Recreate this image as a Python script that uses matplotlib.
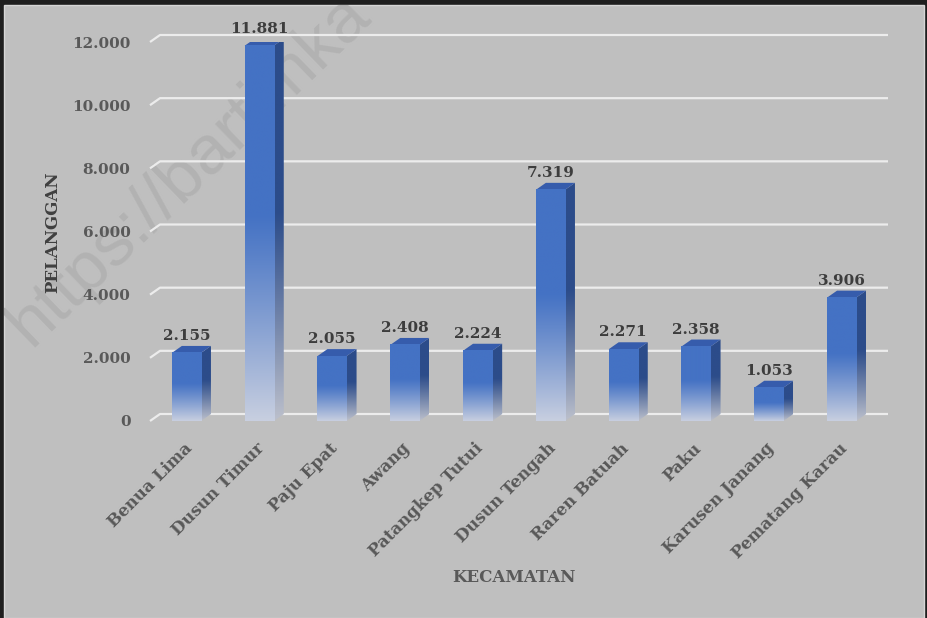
import numpy as np
import matplotlib
matplotlib.use("Agg")
import matplotlib.pyplot as plt
from matplotlib.patches import Polygon, Rectangle
from matplotlib.transforms import offset_copy

# data
kecamatan = ['Benua Lima', 'Dusun Timur', 'Paju Epat', 'Awang', 'Patangkep Tutui',
             'Dusun Tengah', 'Raren Batuah', 'Paku', 'Karusen Janang', 'Pematang Karau']
pelanggan = [2155, 11881, 2055, 2408, 2224, 7319, 2271, 2358, 1053, 3906]
yticks = [0, 2000, 4000, 6000, 8000, 10000, 12000]


def fmt(v):
    return '{:,}'.format(v).replace(',', '.')


W, H = 928, 618
fig = plt.figure(figsize=(W / 100, H / 100), dpi=100)
fig.patch.set_facecolor('#1f1f1f')
panel = Rectangle((4 / W, 0), 920 / W, 613 / H, transform=fig.transFigure,
                  facecolor='#bfbfbf', edgecolor='#d6d6d6', lw=1, zorder=-10)
fig.patches.append(panel)

# front plane of the 3d chart
ax = fig.add_axes([150 / W, (H - 421) / H, 728 / W, 379 / H])
ax.patch.set_visible(False)
for s in ax.spines.values():
    s.set_visible(False)

# depth of the 3d effect, in data units (10 px, 7 px)
DX = 10 / 72.8
DY = 7 * 12000 / 379
bw = 0.4

# watermark (behind the bars)
wm = ax.text(30 / W, 1 - 348 / H, 'https://bartimka', transform=fig.transFigure,
             fontsize=50, family='Liberation Sans', color='#b2b2b2',
             rotation=44, rotation_mode='anchor', ha='left', va='baseline',
             zorder=0.5, clip_on=True)
wm.set_clip_path(panel)

# back wall grid
for v in yticks:
    ax.plot([-0.5, -0.5 + DX, 9.5 + DX], [v, v + DY, v + DY], color='#ececec',
            lw=1.6, zorder=1, clip_on=False, solid_capstyle='butt')


def gradient(rgb, pale, n=300):
    # solid on the upper half, fading towards the floor
    t = np.linspace(0, 1, n)
    k = np.clip((t - 0.45) / 0.55, 0, 1) ** 1.1
    c = np.array(rgb) / 255
    p = np.array(pale) / 255
    img = c[None, :] * (1 - k[:, None]) + p[None, :] * k[:, None]
    return img[:, None, :]


front_img = gradient((68, 114, 196), (200, 207, 224))
side_img = gradient((44, 76, 138), (188, 192, 204))
top_c = '#365cac'

for i, v in enumerate(pelanggan):
    x0, x1 = i - bw / 2, i + bw / 2
    z = 3 + i
    # side face
    side = Polygon([(x1, 0), (x1 + DX, DY), (x1 + DX, v + DY), (x1, v)],
                   closed=True, facecolor='none', edgecolor='none')
    ax.add_patch(side)
    im = ax.imshow(side_img, extent=[x1, x1 + DX, 0, v + DY], aspect='auto',
                   interpolation='bilinear', zorder=z, origin='upper')
    im.set_clip_path(side)
    # top face
    ax.add_patch(Polygon([(x0, v), (x1, v), (x1 + DX, v + DY), (x0 + DX, v + DY)],
                         closed=True, facecolor=top_c, edgecolor='none', zorder=z))
    # front face
    ax.imshow(front_img, extent=[x0, x1, 0, v], aspect='auto',
              interpolation='bilinear', zorder=z + 0.1, origin='upper')
    # value label
    ax.text(i, v, fmt(v), transform=offset_copy(ax.transData, fig, x=0, y=13, units='dots'),
            ha='center', va='baseline', fontsize=11, fontweight='bold',
            family='DejaVu Serif', color='#3d3d3d', zorder=20, clip_on=False)
    # category label
    ax.text(i, 0, kecamatan[i], transform=offset_copy(ax.transData, fig, x=-3, y=-19, units='dots'),
            ha='right', va='top', rotation=45, rotation_mode='anchor', fontsize=12,
            fontweight='bold', family='DejaVu Serif', color='#595959', clip_on=False)

ax.set_xlim(-0.5, 9.5)
ax.set_ylim(0, 12000)
ax.set_xticks([])
ax.set_yticks(yticks)
ax.set_yticklabels([fmt(v) for v in yticks], fontsize=11, fontweight='bold',
                   family='DejaVu Serif', color='#595959')
ax.tick_params(axis='y', length=0, pad=14)

fig.text(53 / W, 1 - 232 / H, 'PELANGGAN', rotation=90, ha='center', va='center',
         fontsize=12, fontweight='bold', family='DejaVu Serif', color='#404040')
fig.text(514 / W, 1 - 578 / H, 'KECAMATAN', ha='center', va='center',
         fontsize=12, fontweight='bold', family='DejaVu Serif', color='#595959')

fig.savefig('out.png', dpi=100, facecolor=fig.get_facecolor())
